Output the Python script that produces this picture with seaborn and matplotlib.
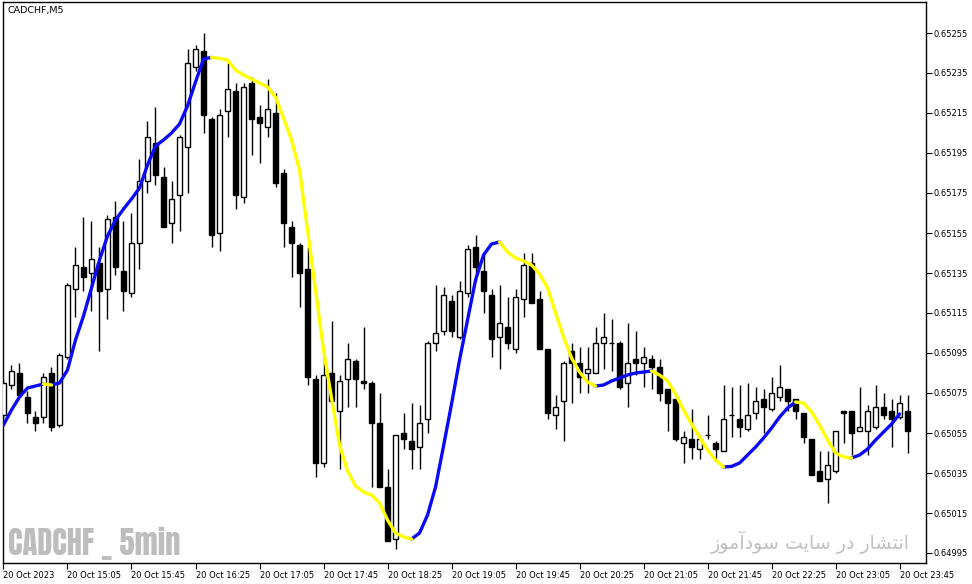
import numpy as np
import pandas as pd
import matplotlib
matplotlib.use("Agg")
import matplotlib.pyplot as plt
import seaborn as sns

sns.set_theme(style="white")
plt.rcParams["font.family"] = ["DejaVu Sans"]

# CADCHF M5 candles, 20 Oct 2023 14:25 .. 23:50 (one bar every 5 min)
opens = [0.65064, 0.65079, 0.65085, 0.65073, 0.65063, 0.65063, 0.65085, 0.65059, 0.65093, 0.65127,
         0.65138, 0.65135, 0.65140, 0.65127, 0.65163, 0.65136, 0.65125, 0.65150, 0.65181, 0.65200,
         0.65183, 0.65160, 0.65174, 0.65198, 0.65238, 0.65246, 0.65212, 0.65155, 0.65216, 0.65226,
         0.65173, 0.65230, 0.65213, 0.65208, 0.65215, 0.65185, 0.65158, 0.65149, 0.65137, 0.65082,
         0.65040, 0.65085, 0.65066, 0.65082, 0.65091, 0.65081, 0.65080, 0.65060, 0.65028, 0.65002,
         0.65055, 0.65051, 0.65048, 0.65062, 0.65100, 0.65106, 0.65121, 0.65103, 0.65125, 0.65148,
         0.65136, 0.65124, 0.65103, 0.65108, 0.65097, 0.65122, 0.65140, 0.65122, 0.65097, 0.65064,
         0.65071, 0.65096, 0.65090, 0.65085, 0.65085, 0.65100, 0.65100, 0.65100, 0.65080, 0.65092,
         0.65090, 0.65092, 0.65088, 0.65077, 0.65072, 0.65050, 0.65052, 0.65047, 0.65054, 0.65050,
         0.65046, 0.65064, 0.65062, 0.65057, 0.65065, 0.65072, 0.65067, 0.65073, 0.65077, 0.65072,
         0.65065, 0.65052, 0.65036, 0.65032, 0.65036, 0.65066, 0.65066, 0.65056, 0.65056, 0.65058,
         0.65068, 0.65066, 0.65063, 0.65066]
highs = [0.65082, 0.65089, 0.65090, 0.65076, 0.65066, 0.65085, 0.65088, 0.65095, 0.65130, 0.65148,
         0.65163, 0.65161, 0.65148, 0.65164, 0.65171, 0.65161, 0.65165, 0.65192, 0.65211, 0.65218,
         0.65188, 0.65181, 0.65204, 0.65247, 0.65249, 0.65255, 0.65213, 0.65217, 0.65240, 0.65230,
         0.65230, 0.65233, 0.65219, 0.65232, 0.65225, 0.65187, 0.65161, 0.65150, 0.65148, 0.65084,
         0.65094, 0.65111, 0.65084, 0.65100, 0.65092, 0.65108, 0.65081, 0.65075, 0.65037, 0.65054,
         0.65065, 0.65070, 0.65069, 0.65101, 0.65129, 0.65128, 0.65124, 0.65131, 0.65149, 0.65154,
         0.65144, 0.65127, 0.65129, 0.65123, 0.65127, 0.65145, 0.65145, 0.65126, 0.65097, 0.65074,
         0.65091, 0.65100, 0.65098, 0.65098, 0.65108, 0.65115, 0.65112, 0.65101, 0.65110, 0.65106,
         0.65098, 0.65094, 0.65092, 0.65077, 0.65072, 0.65056, 0.65067, 0.65054, 0.65064, 0.65051,
         0.65079, 0.65078, 0.65079, 0.65080, 0.65078, 0.65077, 0.65083, 0.65089, 0.65077, 0.65072,
         0.65065, 0.65052, 0.65046, 0.65046, 0.65056, 0.65066, 0.65066, 0.65078, 0.65069, 0.65079,
         0.65075, 0.65072, 0.65074, 0.65074]
lows = [0.65062, 0.65077, 0.65073, 0.65060, 0.65056, 0.65060, 0.65056, 0.65058, 0.65092, 0.65113,
        0.65126, 0.65116, 0.65096, 0.65112, 0.65134, 0.65116, 0.65123, 0.65137, 0.65175, 0.65179,
        0.65158, 0.65150, 0.65156, 0.65175, 0.65236, 0.65205, 0.65148, 0.65146, 0.65203, 0.65167,
        0.65170, 0.65194, 0.65190, 0.65203, 0.65178, 0.65148, 0.65133, 0.65118, 0.65079, 0.65033,
        0.65038, 0.65069, 0.65037, 0.65068, 0.65068, 0.65077, 0.65028, 0.65028, 0.65001, 0.64997,
        0.65047, 0.65037, 0.65037, 0.65055, 0.65096, 0.65104, 0.65103, 0.65102, 0.65123, 0.65131,
        0.65115, 0.65093, 0.65087, 0.65097, 0.65095, 0.65113, 0.65120, 0.65097, 0.65062, 0.65057,
        0.65051, 0.65070, 0.65075, 0.65075, 0.65085, 0.65087, 0.65086, 0.65077, 0.65068, 0.65084,
        0.65078, 0.65077, 0.65071, 0.65056, 0.65051, 0.65040, 0.65042, 0.65042, 0.65052, 0.65041,
        0.65046, 0.65053, 0.65053, 0.65056, 0.65062, 0.65055, 0.65066, 0.65071, 0.65066, 0.65062,
        0.65050, 0.65034, 0.65031, 0.65020, 0.65035, 0.65050, 0.65044, 0.65056, 0.65044, 0.65057,
        0.65062, 0.65048, 0.65062, 0.65045]
closes = [0.65080, 0.65086, 0.65074, 0.65065, 0.65060, 0.65083, 0.65058, 0.65094, 0.65129, 0.65139,
          0.65133, 0.65142, 0.65126, 0.65162, 0.65138, 0.65126, 0.65150, 0.65181, 0.65203, 0.65184,
          0.65158, 0.65172, 0.65203, 0.65240, 0.65247, 0.65214, 0.65154, 0.65214, 0.65227, 0.65174,
          0.65228, 0.65212, 0.65210, 0.65217, 0.65180, 0.65160, 0.65150, 0.65135, 0.65083, 0.65040,
          0.65084, 0.65071, 0.65081, 0.65092, 0.65082, 0.65080, 0.65060, 0.65028, 0.65001, 0.65054,
          0.65052, 0.65047, 0.65060, 0.65100, 0.65105, 0.65124, 0.65106, 0.65126, 0.65147, 0.65138,
          0.65126, 0.65102, 0.65110, 0.65100, 0.65123, 0.65139, 0.65120, 0.65097, 0.65065, 0.65068,
          0.65090, 0.65090, 0.65083, 0.65087, 0.65100, 0.65103, 0.65100, 0.65078, 0.65090, 0.65090,
          0.65093, 0.65088, 0.65075, 0.65070, 0.65052, 0.65053, 0.65048, 0.65052, 0.65054, 0.65047,
          0.65062, 0.65064, 0.65058, 0.65064, 0.65071, 0.65068, 0.65075, 0.65078, 0.65071, 0.65066,
          0.65053, 0.65034, 0.65031, 0.65039, 0.65056, 0.65065, 0.65055, 0.65058, 0.65066, 0.65068,
          0.65064, 0.65062, 0.65070, 0.65056]

# smoothed indicator line (blue = rising, yellow = falling), last bar not drawn
ma = [0.650590, 0.650665, 0.650730, 0.650775, 0.650785, 0.650795, 0.650790, 0.650800, 0.650865, 0.651015,
      0.651135, 0.651275, 0.651415, 0.651535, 0.651615, 0.651670, 0.651720, 0.651775, 0.651890, 0.651985,
      0.652015, 0.652050, 0.652095, 0.652185, 0.652305, 0.652420, 0.652428, 0.652423, 0.652415, 0.652365,
      0.652340, 0.652320, 0.652300, 0.652280, 0.652230, 0.652125, 0.652015, 0.651865, 0.651565, 0.651265,
      0.650965, 0.650725, 0.650490, 0.650360, 0.650285, 0.650255, 0.650240, 0.650200, 0.650115, 0.650050,
      0.650030, 0.650020, 0.650050, 0.650140, 0.650280, 0.650485, 0.650695, 0.650915, 0.651115, 0.651315,
      0.651440, 0.651495, 0.651505, 0.651455, 0.651425, 0.651410, 0.651390, 0.651345, 0.651275, 0.651150,
      0.651030, 0.650925, 0.650855, 0.650805, 0.650785, 0.650790, 0.650810, 0.650825, 0.650840, 0.650850,
      0.650855, 0.650860, 0.650840, 0.650810, 0.650745, 0.650665, 0.650595, 0.650530, 0.650465, 0.650415,
      0.650380, 0.650383, 0.650400, 0.650440, 0.650480, 0.650525, 0.650575, 0.650630, 0.650675, 0.650705,
      0.650700, 0.650655, 0.650590, 0.650515, 0.650450, 0.650430, 0.650425, 0.650440, 0.650470, 0.650515,
      0.650555, 0.650595, 0.650645, np.nan]

time_labels = ["20 Oct 2023", "20 Oct 15:05", "20 Oct 15:45", "20 Oct 16:25", "20 Oct 17:05",
               "20 Oct 17:45", "20 Oct 18:25", "20 Oct 19:05", "20 Oct 19:45", "20 Oct 20:25",
               "20 Oct 21:05", "20 Oct 21:45", "20 Oct 22:25", "20 Oct 23:05", "20 Oct 23:45"]
price_labels = ["0.64995", "0.65015", "0.65035", "0.65055", "0.65075", "0.65095", "0.65115",
                "0.65135", "0.65155", "0.65175", "0.65195", "0.65215", "0.65235", "0.65255"]

df = pd.DataFrame({"open": opens, "high": highs, "low": lows, "close": closes})
df["bar"] = np.arange(len(df))
bull = df["close"] >= df["open"]

# split indicator into rising / falling runs
rows = []
seg = 0
prev = None
for i in range(len(ma) - 1):
    if np.isnan(ma[i + 1]):
        break
    d = "up" if ma[i + 1] >= ma[i] else "down"
    if d != prev:
        seg += 1
        prev = d
    rows.append((i, ma[i], d, seg))
    rows.append((i + 1, ma[i + 1], d, seg))
line_df = pd.DataFrame(rows, columns=["x", "y", "dir", "seg"])

fig = plt.figure(figsize=(9.72, 5.84), dpi=100)
ax = fig.add_axes([3 / 972, 21 / 584, 923 / 972, 561 / 584])
ax.set_facecolor("white")

# candles
ax.vlines(df["bar"], df["low"], df["high"], color="black", lw=1, zorder=2)
ax.bar(df["bar"], (df["close"] - df["open"]).abs(), bottom=np.minimum(df["open"], df["close"]),
       width=0.7, color=np.where(bull, "white", "black"), edgecolor="black", lw=1, zorder=3)

sns.lineplot(data=line_df, x="x", y="y", hue="dir", units="seg", estimator=None, sort=False,
             palette={"up": "#0a0af5", "down": "#ffff00"}, legend=False, lw=2.4, ax=ax, zorder=4)

ax.set_xlim(-0.06, 115.3)
ax.set_ylim(0.6499, 0.652705)
ax.set_xlabel("")
ax.set_ylabel("")

ax.set_xticks(np.arange(0, 113, 8))
ax.set_xticklabels(time_labels, ha="left", fontsize=6)
ax.tick_params(axis="x", bottom=True, direction="out", length=4, width=0.8, pad=1.5, colors="black")
ax.yaxis.tick_right()
ax.set_yticks([float(p) for p in price_labels])
ax.set_yticklabels(price_labels, fontsize=6)
ax.tick_params(axis="y", right=True, direction="out", length=4, width=0.8, pad=1.5, colors="black")
for s in ax.spines.values():
    s.set_color("black")
    s.set_linewidth(1)

fig.text(7 / 972, 1 - 11 / 584, "CADCHF,M5", fontsize=6.8, va="center", ha="left", color="black")

# watermarks
fig.text(8 / 972, 1 - 543 / 584, "CADCHF _ 5min", fontsize=22,
         family=["Anton", "Oswald", "DejaVu Sans"], fontweight="bold", fontstretch="condensed",
         color="#bdbdbd", va="center", ha="left")
persian = ("\uFEAF\uFEEE\uFEE3\uFE81\uFEA9\uFEEE\uFEB3 \uFE96\uFEF3\uFE8E\uFEB3 "
           "\uFEAD\uFEA9 \uFEAD\uFE8E\uFEB8\uFE98\uFEE7\uFE8D")
fig.text(910 / 972, 1 - 542 / 584, persian, fontsize=13.7, color="#c0c0c0",
         va="center", ha="right", family=["DejaVu Sans"])

fig.savefig("out.png", dpi=100, facecolor="white")
